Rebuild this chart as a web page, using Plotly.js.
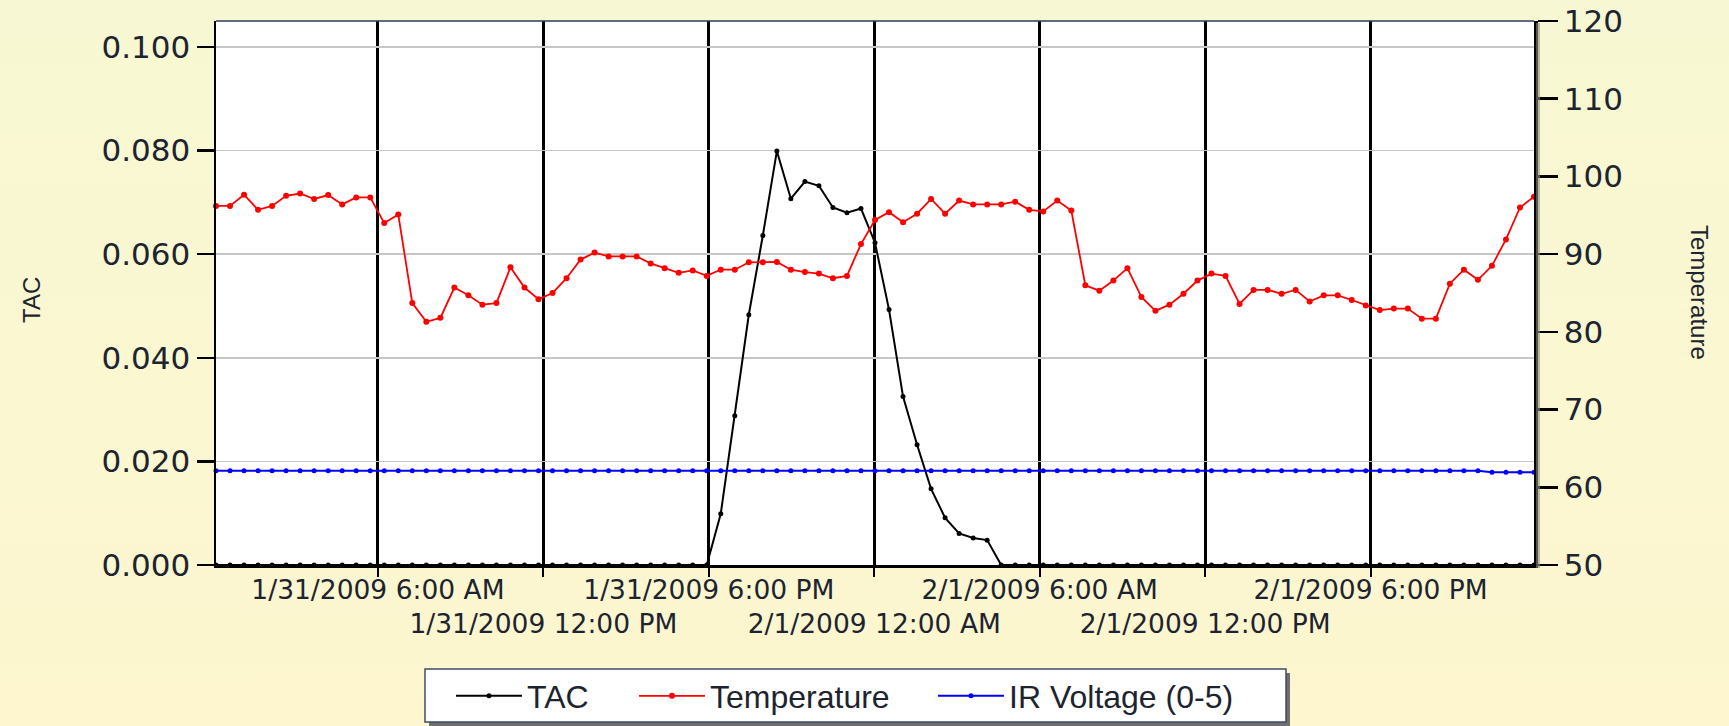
<!DOCTYPE html>
<html>
<head>
<meta charset="utf-8">
<script src="https://cdn.plot.ly/plotly-3.0.1.min.js"></script>
<style>
  html, body { margin: 0; padding: 0; }
  body { background: linear-gradient(to bottom, #F7F8D3 0%, #FAF7D1 50%, #FDF6CF 100%); }
  #chart { width: 1729px; height: 726px; }
</style>
</head>
<body>
<div id="chart"></div>
<script>
// ---- data ----
const startTime = [2009, 0, 31, 0, 7, 36];   // first sample: 1/31/2009 00:07:36
const stepMinutes = 30.51;                   // sampling interval

const tacValues = [
  0,0,0,0,0,0,0,0,0,0,
  0,0,0,0,0,0,0,0,0,0,
  0,0,0,0,0,0,0,0,0,0,
  0,0,0,0,0,0,
  0.0099,0.0288,0.0483,0.0636,0.0799,0.0707,0.0740,0.0732,0.0690,0.0680,
  0.0688,0.0622,0.0493,0.0325,0.0232,0.0147,0.0091,0.0061,0.0052,0.0048,
  0,0,0,0,0,0,0,0,0,0,
  0,0,0,0,0,0,0,0,0,0,
  0,0,0,0,0,0,0,0,0,0,
  0,0,0,0,0,0,0,0,0
];

const temperatureValues = [
  96.2,96.2,97.65,95.7,96.2,97.5,97.8,97.1,97.6,96.4,
  97.3,97.3,94.0,95.1,83.7,81.3,81.8,85.7,84.7,83.5,
  83.7,88.3,85.7,84.2,85.0,86.9,89.3,90.2,89.7,89.7,
  89.7,88.8,88.2,87.6,87.9,87.2,88.0,88.0,88.95,88.95,
  89.0,88.0,87.7,87.5,86.9,87.2,91.3,94.4,95.4,94.1,
  95.2,97.1,95.2,96.9,96.4,96.4,96.4,96.75,95.7,95.5,
  96.9,95.6,86.0,85.3,86.6,88.2,84.5,82.7,83.5,84.9,
  86.6,87.5,87.2,83.6,85.4,85.4,84.9,85.4,83.9,84.7,
  84.7,84.1,83.4,82.8,83.0,83.0,81.7,81.7,86.2,88.0,
  86.7,88.5,91.9,96.0,97.4
];

const irVoltageValues = [
  0.0182,0.0182,0.0182,0.0182,0.0182,0.0182,0.0182,0.0182,0.0182,0.0182,
  0.0182,0.0182,0.0182,0.0182,0.0182,0.0182,0.0182,0.0182,0.0182,0.0182,
  0.0182,0.0182,0.0182,0.0182,0.0182,0.0182,0.0182,0.0182,0.0182,0.0182,
  0.0182,0.0182,0.0182,0.0182,0.0182,0.0182,0.0182,0.0182,0.0182,0.0182,
  0.0182,0.0182,0.0182,0.0182,0.0182,0.0182,0.0182,0.0182,0.0182,0.0182,
  0.0182,0.0182,0.0182,0.0182,0.0182,0.0182,0.0182,0.0182,0.0182,0.0182,
  0.0182,0.0182,0.0182,0.0182,0.0182,0.0182,0.0182,0.0182,0.0182,0.0182,
  0.0182,0.0182,0.0182,0.0182,0.0182,0.0182,0.0182,0.0182,0.0182,0.0182,
  0.0182,0.0182,0.0182,0.0182,0.0182,0.0182,0.0182,0.0182,0.0182,0.0182,
  0.0182,0.0179,0.0179,0.0179,0.0179
];

const tickTimes = [
  '2009-01-31 06:00', '2009-01-31 12:00', '2009-01-31 18:00',
  '2009-02-01 00:00', '2009-02-01 06:00', '2009-02-01 12:00', '2009-02-01 18:00'
];
const tickLabels = [
  '1/31/2009 6:00 AM', '1/31/2009 12:00 PM', '1/31/2009 6:00 PM',
  '2/1/2009 12:00 AM', '2/1/2009 6:00 AM', '2/1/2009 12:00 PM', '2/1/2009 6:00 PM'
];
const tickRow = [1, 2, 1, 2, 1, 2, 1];   // labels alternate between two rows

const seriesNames = ['TAC', 'Temperature', 'IR Voltage (0-5)'];
const tacRange = [0, 0.105];
const tempRange = [50, 120];

// ---- build sample times ----
function pad(n) { return String(n).padStart(2, '0'); }
function fmt(d) {
  return d.getUTCFullYear() + '-' + pad(d.getUTCMonth() + 1) + '-' + pad(d.getUTCDate()) + ' ' +
         pad(d.getUTCHours()) + ':' + pad(d.getUTCMinutes()) + ':' + pad(d.getUTCSeconds());
}
const t0 = Date.UTC.apply(null, startTime);
const times = temperatureValues.map((_, i) => fmt(new Date(t0 + i * stepMinutes * 60000)));

const tickText = tickLabels.map((s, i) => tickRow[i] === 2 ? '\u00a0<br>' + s : s);

// ---- pixel helpers for decorations ----
const W = 1729, H = 726;
const M = { l: 216, r: 195, t: 21, b: 161 };
const PW = W - M.l - M.r, PH = H - M.t - M.b;
const px = x => (x - M.l) / PW;
const py = y => (H - M.b - y) / PH;

const textColor = '#1d2430';
const tickFont = 'DejaVu Sans, Verdana, sans-serif';
const legendFont = { family: 'Liberation Sans, Arial, sans-serif', size: 32, color: textColor };

function legendAt(xPix) {
  return {
    orientation: 'v',
    x: px(xPix), xanchor: 'left',
    y: py(696), yanchor: 'middle',
    bgcolor: 'rgba(0,0,0,0)', borderwidth: 0,
    itemwidth: 66,
    font: legendFont
  };
}

const traces = [
  {
    x: times, y: tacValues, name: seriesNames[0], type: 'scatter', mode: 'lines+markers',
    line: { color: '#000000', width: 2 }, marker: { color: '#000000', size: 5 },
    yaxis: 'y', cliponaxis: false, legend: 'legend'
  },
  {
    x: times, y: temperatureValues, name: seriesNames[1], type: 'scatter', mode: 'lines+markers',
    line: { color: '#FF0000', width: 1.8 }, marker: { color: '#FF0000', size: 6 },
    yaxis: 'y2', cliponaxis: false, legend: 'legend2'
  },
  {
    x: times, y: irVoltageValues, name: seriesNames[2], type: 'scatter', mode: 'lines+markers',
    line: { color: '#0000FF', width: 2 }, marker: { color: '#0000FF', size: 5 },
    yaxis: 'y', cliponaxis: false, legend: 'legend3'
  }
];

const layout = {
  width: W, height: H,
  margin: Object.assign({ autoexpand: false }, M),
  paper_bgcolor: 'rgba(0,0,0,0)',
  plot_bgcolor: '#FFFFFF',
  showlegend: true,
  xaxis: {
    type: 'date',
    range: [times[0], times[times.length - 1]],
    tickmode: 'array', tickvals: tickTimes, ticktext: tickText, tickangle: 0,
    ticks: 'outside', ticklen: 9, tickwidth: 2, tickcolor: '#000000',
    ticklabelstandoff: -10,
    showgrid: true, gridcolor: '#000000', gridwidth: 3,
    showline: true, linecolor: '#000000', linewidth: 3,
    zeroline: false,
    tickfont: { family: tickFont, size: 26.5, color: textColor }
  },
  yaxis: {
    range: tacRange, dtick: 0.02, tick0: 0, tickformat: '.3f',
    ticks: 'outside', ticklen: 17, tickwidth: 2.5, tickcolor: '#000000',
    showgrid: true, gridcolor: '#C6C6C6', gridwidth: 1.5,
    showline: true, linecolor: '#000000', linewidth: 2.5,
    zeroline: false,
    tickfont: { family: tickFont, size: 31, color: textColor }
  },
  yaxis2: {
    range: tempRange, dtick: 10, tick0: 50,
    overlaying: 'y', side: 'right',
    ticks: 'outside', ticklen: 20, tickwidth: 2.5, tickcolor: '#000000',
    showgrid: false,
    showline: true, linecolor: '#000000', linewidth: 3.5,
    zeroline: false,
    tickfont: { family: tickFont, size: 31, color: textColor }
  },
  legend: legendAt(451),
  legend2: legendAt(634),
  legend3: legendAt(933),
  annotations: [
    {
      text: 'TAC', xref: 'paper', yref: 'paper', x: px(31), y: py(300),
      xanchor: 'center', yanchor: 'middle', textangle: -90, showarrow: false,
      font: { family: 'Liberation Sans, Arial, sans-serif', size: 24, color: textColor }
    },
    {
      text: 'Temperature', xref: 'paper', yref: 'paper', x: px(1700), y: py(292),
      xanchor: 'center', yanchor: 'middle', textangle: 90, showarrow: false,
      font: { family: 'Liberation Sans, Arial, sans-serif', size: 24, color: textColor }
    }
  ],
  shapes: [
    // thin navy top border of the plot frame
    { type: 'line', xref: 'paper', yref: 'paper', x0: 0, x1: 1, y0: 1, y1: 1,
      line: { color: '#2B3D5C', width: 1.5 }, layer: 'above' },
    // shadow right of the temperature axis
    { type: 'rect', xref: 'paper', yref: 'paper', x0: px(1536), x1: px(1540), y0: py(568), y1: py(23),
      fillcolor: '#8E8E80', opacity: 0.6, line: { width: 0 }, layer: 'above' },
    // legend box shadow
    { type: 'rect', xref: 'paper', yref: 'paper', x0: px(429), x1: px(1290), y0: py(726), y1: py(673),
      fillcolor: '#6F6F6F', line: { width: 0 }, layer: 'above' },
    // legend box
    { type: 'rect', xref: 'paper', yref: 'paper', x0: px(425), x1: px(1286), y0: py(722), y1: py(669),
      fillcolor: '#FFFFFF', line: { color: '#3E4E66', width: 1.5 }, layer: 'above' }
  ]
};

Plotly.newPlot('chart', traces, layout, { displayModeBar: false, staticPlot: true });
</script>
</body>
</html>
